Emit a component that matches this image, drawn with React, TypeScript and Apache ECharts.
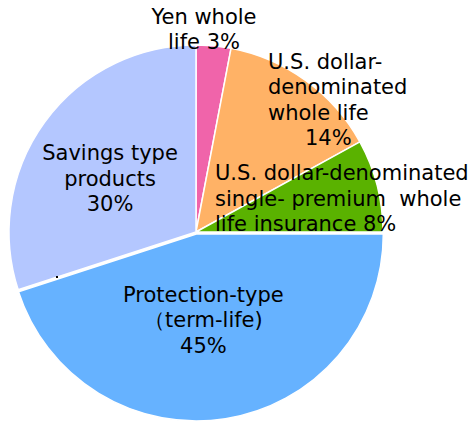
import React, { useEffect, useRef } from "react";
import * as echarts from "echarts";

const categories = [
  "Yen whole life",
  "U.S. dollar-denominated whole life",
  "U.S. dollar-denominated single-premium whole life insurance",
  "Protection-type (term-life)",
  "Savings type products",
];
const shares = [3, 14, 8, 45, 30];
const labelTemplates = [
  "Yen whole\nlife #%",
  "U.S. dollar-\ndenominated\nwhole life\n{p|#%}",
  "U.S. dollar-denominated\nsingle- premium  whole\nlife insurance #%",
  "Protection-type\n（term-life)\n#%",
  "Savings type\nproducts\n#%",
];
const colors = ["#F064AA", "#FFB266", "#5AB200", "#66B2FF", "#B4C7FF"];

// label anchor positions (layout only); null = default inside position with offset
const labelPos: any[] = [
  { x: 204, y: 29.5, align: "center" },
  { x: 268, y: 100, align: "left" },
  { x: 215, y: 198.5, align: "left" },
  null,
  { x: 110, y: 178.5, align: "center" },
];
const labelOffsets: any[] = [null, null, null, [-8, -9], null];

export default function App() {
  const ref = useRef<HTMLDivElement>(null);
  useEffect(() => {
    const chart = echarts.init(ref.current!, null, { renderer: "svg" });
    chart.setOption({
      animation: false,
      backgroundColor: "#ffffff",
      graphic: [
        { type: "rect", shape: { x: 56, y: 276, width: 2, height: 2 }, style: { fill: "#000" }, z: 100 },
      ],
      series: [
        {
          type: "pie",
          center: [196, 232],
          radius: [0, 187],
          startAngle: 90,
          clockwise: true,
          selectedMode: "single",
          selectedOffset: 2,
          avoidLabelOverlap: false,
          emphasis: { disabled: true },
          itemStyle: { borderColor: "#ffffff", borderWidth: 1.5 },
          label: {
            show: true,
            position: "inside",
            color: "#000000",
            fontFamily: "DejaVu Sans",
            fontSize: 21,
            lineHeight: 25.5,
            textBorderWidth: 0,
            formatter: (p: any) =>
              labelTemplates[p.dataIndex].replace("#", String(shares[p.dataIndex])),
            rich: {
              p: {
                color: "#000000",
                fontFamily: "DejaVu Sans",
                fontSize: 21,
                lineHeight: 25.5,
                padding: [0, 0, 0, 37],
              },
            },
          },
          labelLine: { show: false },
          labelLayout: (params: any) => {
            const lp = labelPos[params.dataIndex];
            if (!lp) return {};
            return { x: lp.x, y: lp.y, align: lp.align, verticalAlign: "middle" };
          },
          data: categories.map((name, i) => {
            const item: any = {
              name,
              value: shares[i],
              selected: i === 3,
              itemStyle: { color: colors[i] },
            };
            if (labelOffsets[i]) {
              item.label = { offset: labelOffsets[i] };
              item.select = { label: { offset: labelOffsets[i] } };
            }
            return item;
          }),
        },
      ],
    });
    return () => chart.dispose();
  }, []);
  return <div ref={ref} style={{ width: 475, height: 423, position: "absolute", left: 0, top: 0 }} />;
}
